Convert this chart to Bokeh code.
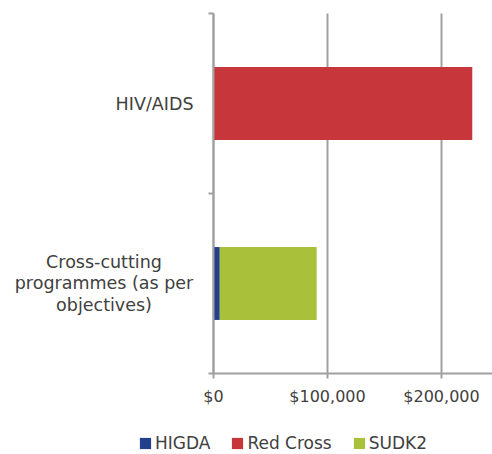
from bokeh.plotting import figure
from bokeh.models import (ColumnDataSource, FixedTicker, NumeralTickFormatter,
                          Legend, LegendItem, Range1d)
from bokeh.embed import file_html
from bokeh.resources import INLINE

# ---- data ----
categories = ["Cross-cutting programmes (as per objectives)", "HIV/AIDS"]
ytick_labels = ["Cross-cutting\nprogrammes (as per\nobjectives)", "HIV/AIDS"]
series = ["HIGDA", "Red Cross", "SUDK2"]
higda = [5500, 0]
red_cross = [0, 227000]
sudk2 = [85000, 0]
colors = ["#243F8C", "#C7363A", "#A9C03B"]
xticks = [0, 100000, 200000]

# ---- layout constants (pixels) ----
W, H = 492, 454
AX_LEFT = 213          # screen x of value 0
PX_PER_100K = 114.0
AX_TOP = 13            # screen y of top of category band
AX_BOTTOM = 373        # screen y of value axis
FONT = "DejaVu Sans"
TXT = "#404040"
GRID = "#a0a0a0"

ncat = len(categories)
px_per_unit_x = PX_PER_100K / 100000.0
px_per_cat = (AX_BOTTOM - AX_TOP) / ncat
x_start = -AX_LEFT / px_per_unit_x
x_end = (W - AX_LEFT) / px_per_unit_x
y_end = ncat + AX_TOP / px_per_cat
y_start = -(H - AX_BOTTOM) / px_per_cat

ypos = [i + 0.5 for i in range(ncat)]
source = ColumnDataSource(dict(y=ypos, cat=categories, HIGDA=higda,
                               **{"Red Cross": red_cross}, SUDK2=sudk2))

p = figure(width=W, height=H, output_backend="svg", toolbar_location=None,
           x_range=Range1d(x_start, x_end), y_range=Range1d(y_start, y_end),
           min_border=0)
p.outline_line_color = None
p.background_fill_color = "white"
p.grid.visible = False

renderers = p.hbar_stack(series, y="y", height=0.405, color=colors,
                         line_color=None, source=source)
for r in renderers:
    r.level = "annotation"

# x axis (its long inward ticks act as the vertical gridlines)
xa = p.xaxis[0]
xa.fixed_location = 0
xa.bounds = (0, x_end)
xa.ticker = FixedTicker(ticks=xticks)
xa.formatter = NumeralTickFormatter(format="$0,0")
xa.axis_line_color = GRID
xa.axis_line_width = 2
xa.major_tick_line_color = GRID
xa.major_tick_line_width = 2
xa.major_tick_out = 5
xa.major_tick_in = AX_BOTTOM - AX_TOP
xa.minor_tick_line_color = None
xa.major_label_text_font = FONT
xa.major_label_text_font_size = "16px"
xa.major_label_text_color = TXT
xa.major_label_standoff = 8

# y axis (category boundaries as ticks)
ya = p.yaxis[0]
ya.fixed_location = 0
ya.bounds = (0, ncat)
ya.level = "overlay"
ya.ticker = FixedTicker(ticks=[], minor_ticks=list(range(ncat + 1)))
ya.axis_line_color = GRID
ya.axis_line_width = 2
ya.major_tick_line_color = None
ya.minor_tick_line_color = GRID
ya.minor_tick_line_width = 2
ya.minor_tick_out = 5
ya.minor_tick_in = 0

# category labels
lab_src = ColumnDataSource(dict(
    y=ypos, text=ytick_labels,
    align=["center", "right"],
    xoff=[103.5 - AX_LEFT, 193 - AX_LEFT]))
p.text(x=0, y="y", text="text", source=lab_src, text_align="align",
       x_offset="xoff", text_baseline="middle", text_font_size="17.5px",
       text_color=TXT, text_line_height=1.06, text_font={"value": FONT})

# legend
items = [LegendItem(label=s, renderers=[r]) for s, r in zip(series, renderers)]
legend = Legend(items=items, orientation="horizontal", location=(138, 1))
legend.glyph_width = 14
legend.glyph_height = 14
legend.label_standoff = 3
legend.spacing = 20
legend.padding = 0
legend.margin = 0
legend.border_line_color = None
legend.background_fill_alpha = 0
legend.label_text_font = FONT
legend.label_text_font_size = "17px"
legend.label_text_color = TXT
p.add_layout(legend, "center")

open("out.html", "w").write(file_html(p, INLINE))
